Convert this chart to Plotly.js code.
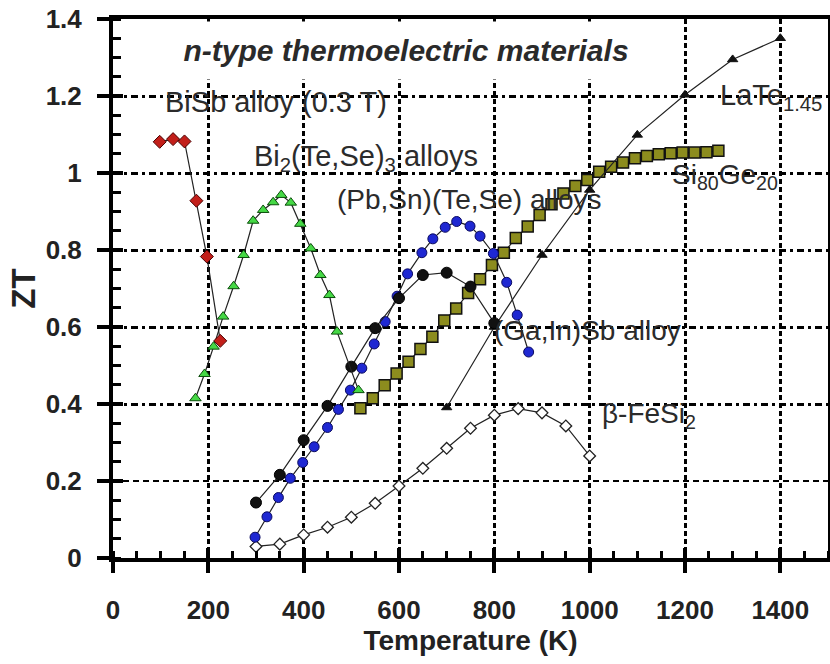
<!DOCTYPE html>
<html>
<head>
<meta charset="utf-8">
<script src="https://cdn.plot.ly/plotly-3.0.1.min.js"></script>
<style>html,body{margin:0;padding:0;background:#fff;}#chart{width:830px;height:664px;}</style>
</head>
<body>
<div id="chart"></div>
<script>
// BiSb alloy (0.3 T)
const bisbT  = [98, 126, 150, 175, 197, 225];
const bisbZT = [1.081, 1.088, 1.082, 0.928, 0.783, 0.564];

// Bi2(Te,Se)3 alloys
const bitesT  = [173, 192, 211, 231, 253, 274, 294, 315, 336, 353, 373, 393, 415, 435, 454, 470, 515];
const bitesZT = [0.415, 0.478, 0.549, 0.627, 0.706, 0.787, 0.876, 0.904, 0.924, 0.943, 0.923, 0.868, 0.804, 0.735, 0.683, 0.588, 0.436];

// (Pb,Sn)(Te,Se) alloys
const pbsnT  = [298, 323, 347, 372, 398, 422, 450, 473, 498, 522, 548, 571, 596, 618, 648, 671, 697, 721, 749, 770, 798, 826, 848, 872];
const pbsnZT = [0.054, 0.107, 0.157, 0.207, 0.248, 0.289, 0.339, 0.386, 0.436, 0.493, 0.556, 0.614, 0.680, 0.738, 0.793, 0.829, 0.859, 0.874, 0.862, 0.836, 0.791, 0.716, 0.631, 0.535];

// (Ga,In)Sb alloy
const gainsbT  = [300, 350, 400, 450, 500, 550, 600, 650, 700, 750, 800];
const gainsbZT = [0.144, 0.216, 0.306, 0.395, 0.497, 0.597, 0.675, 0.735, 0.741, 0.705, 0.610];

// Si80Ge20
const sigeT  = [519, 545, 570, 595, 620, 645, 670, 695, 720, 745, 770, 795, 820, 845, 870, 895, 920, 945, 970, 995, 1020, 1045, 1070, 1095, 1120, 1145, 1170, 1195, 1220, 1245, 1270];
const sigeZT = [0.389, 0.415, 0.449, 0.479, 0.510, 0.543, 0.575, 0.617, 0.648, 0.688, 0.724, 0.761, 0.793, 0.831, 0.861, 0.891, 0.919, 0.947, 0.966, 0.982, 1.003, 1.016, 1.027, 1.038, 1.044, 1.049, 1.051, 1.053, 1.053, 1.054, 1.058];

// LaTe1.45
const lateT  = [700, 800, 900, 1000, 1100, 1200, 1300, 1400];
const lateZT = [0.391, 0.600, 0.787, 0.956, 1.099, 1.203, 1.295, 1.350];

// beta-FeSi2
const fesiT  = [300, 350, 400, 450, 500, 550, 600, 650, 700, 750, 800, 850, 900, 950, 1000];
const fesiZT = [0.030, 0.036, 0.060, 0.080, 0.106, 0.142, 0.187, 0.233, 0.285, 0.337, 0.371, 0.388, 0.377, 0.343, 0.265];

// axis ticks
const xMajor = [0, 200, 400, 600, 800, 1000, 1200, 1400];
const yMajor = [0, 0.2, 0.4, 0.6, 0.8, 1.0, 1.2, 1.4];
const yLabels = ['0', '0.2', '0.4', '0.6', '0.8', '1', '1.2', '1.4'];
const yGridDashDot = [0.4, 0.6, 0.8, 1.0, 1.2];
const yGridDash = [0.2];

const LINE = {color: '#222', width: 1.2};
function series(name, x, y, marker) {
  return {type: 'scatter', mode: 'lines+markers', name, x, y, line: LINE, marker, showlegend: false, hoverinfo: 'x+y'};
}

const traces = [
  series('β-FeSi2', fesiT, fesiZT, {symbol: 'diamond', size: 9, color: '#ffffff', line: {color: '#222', width: 1.3}}),
  series('Si80Ge20', sigeT, sigeZT, {symbol: 'square', size: 11, color: '#8c8c1e', line: {color: '#111', width: 1.5}}),
  series('(Pb,Sn)(Te,Se) alloys', pbsnT, pbsnZT, {symbol: 'circle', size: 10, color: '#1f28d2', line: {color: '#0a0a60', width: 1}}),
  series('LaTe1.45', lateT, lateZT, {symbol: 'triangle-up', size: 9, color: '#111', line: {color: '#111', width: 1}}),
  series('(Ga,In)Sb alloy', gainsbT, gainsbZT, {symbol: 'circle', size: 11, color: '#111', line: {color: '#000', width: 1}}),
  series('Bi2(Te,Se)3 alloys', bitesT, bitesZT, {symbol: 'triangle-up', size: 10, color: '#45d845', line: {color: '#0b4d0b', width: 1}}),
  series('BiSb alloy (0.3 T)', bisbT, bisbZT, {symbol: 'diamond', size: 10, color: '#c21f1a', line: {color: '#4a0000', width: 1}}),
  // empty helper traces so overlay axes (inside major ticks, grid variants) are drawn
  {type: 'scatter', x: [null], y: [null], xaxis: 'x2', yaxis: 'y', showlegend: false, hoverinfo: 'skip'},
  {type: 'scatter', x: [null], y: [null], xaxis: 'x', yaxis: 'y2', showlegend: false, hoverinfo: 'skip'},
  {type: 'scatter', x: [null], y: [null], xaxis: 'x', yaxis: 'y3', showlegend: false, hoverinfo: 'skip'}
];

const FAMILY = 'Liberation Sans, Arial, sans-serif';
const TICKFONT = {family: FAMILY, size: 26, color: '#222', weight: 'bold'};
const ANNFONT = {family: FAMILY, size: 28, color: '#2b2b2b'};

function label(text, x, y, size) {
  return {text, x, y, xref: 'x', yref: 'y', xanchor: 'left', yanchor: 'middle', showarrow: false,
          font: Object.assign({}, ANNFONT, size ? {size} : {})};
}

const layout = {
  width: 830, height: 664,
  margin: {l: 113, r: 2, t: 19, b: 106},
  paper_bgcolor: '#fff', plot_bgcolor: '#fff',
  font: {family: FAMILY, color: '#222'},
  xaxis: {
    range: [0, 1500], tickvals: xMajor, ticks: 'outside', ticklen: 11, tickwidth: 4, tickcolor: '#000',
    showline: true, linewidth: 4, linecolor: '#000', mirror: true, zeroline: false,
    showgrid: true, gridcolor: '#000', gridwidth: 3, griddash: '5px,3px',
    minor: {tick0: 0, dtick: 50, ticks: 'inside', ticklen: 7, tickwidth: 3, tickcolor: '#000', showgrid: false},
    tickfont: TICKFONT, ticklabelstandoff: 15,
    title: {text: '<b>Temperature (K)</b>', font: {family: FAMILY, size: 28, color: '#222'}, standoff: 6}
  },
  xaxis2: {
    overlaying: 'x', anchor: 'y', side: 'bottom', range: [0, 1500], tickvals: xMajor,
    ticks: 'inside', ticklen: 10, tickwidth: 4, tickcolor: '#000',
    showticklabels: false, showgrid: false, showline: false, zeroline: false
  },
  yaxis: {
    range: [0, 1.4], tickvals: yMajor, ticktext: yLabels,
    ticks: 'outside', ticklen: 12, tickwidth: 4, tickcolor: '#000',
    showline: true, linewidth: 4, linecolor: '#000', mirror: true, zeroline: false, showgrid: false,
    minor: {tick0: 0, dtick: 0.05, ticks: 'inside', ticklen: 8, tickwidth: 3, tickcolor: '#000', showgrid: false},
    tickfont: TICKFONT, ticklabelstandoff: 10,
    title: {text: '<b>ZT</b>', font: {family: FAMILY, size: 33, color: '#222'}, standoff: 1}
  },
  yaxis2: {
    overlaying: 'y', anchor: 'x', side: 'left', range: [0, 1.4], tickvals: yGridDashDot,
    ticks: 'inside', ticklen: 10, tickwidth: 4, tickcolor: '#000', showticklabels: false,
    showline: false, zeroline: false,
    showgrid: true, gridcolor: '#000', gridwidth: 3, griddash: '7px,4px,3px,4px'
  },
  yaxis3: {
    overlaying: 'y', anchor: 'x', side: 'left', range: [0, 1.4], tickvals: yGridDash,
    ticks: 'inside', ticklen: 10, tickwidth: 4, tickcolor: '#000', showticklabels: false,
    showline: false, zeroline: false,
    showgrid: true, gridcolor: '#000', gridwidth: 2, griddash: '6px,4px'
  },
  annotations: [
    {text: '<b><i>n-type thermoelectric materials</i></b>', xref: 'paper', yref: 'paper',
     x: 0.4098, y: 1 - 2 / 539, xanchor: 'center', yanchor: 'top', showarrow: false,
     width: 520, height: 57, bgcolor: '#fff', borderpad: 0,
     font: {family: FAMILY, size: 30, color: '#2a2a2a'}},
    label('BiSb alloy (0.3 T)', 105, 1.184, 29),
    label('Bi<sub>2</sub>(Te,Se)<sub>3</sub> alloys', 292, 1.039, 29),
    label('(Pb,Sn)(Te,Se) alloys', 466, 0.930, 28),
    label('LaTe<sub>1.45</sub>', 1269, 1.197, 29),
    label('Si<sub>80</sub>Ge<sub>20</sub>', 1168, 0.992, 28),
    label('(Ga,In)Sb alloy', 795, 0.592, 28),
    label('β-FeSi<sub>2</sub>', 1022, 0.371, 28)
  ]
};

Plotly.newPlot('chart', traces, layout, {displayModeBar: false, staticPlot: true});
</script>
</body>
</html>
